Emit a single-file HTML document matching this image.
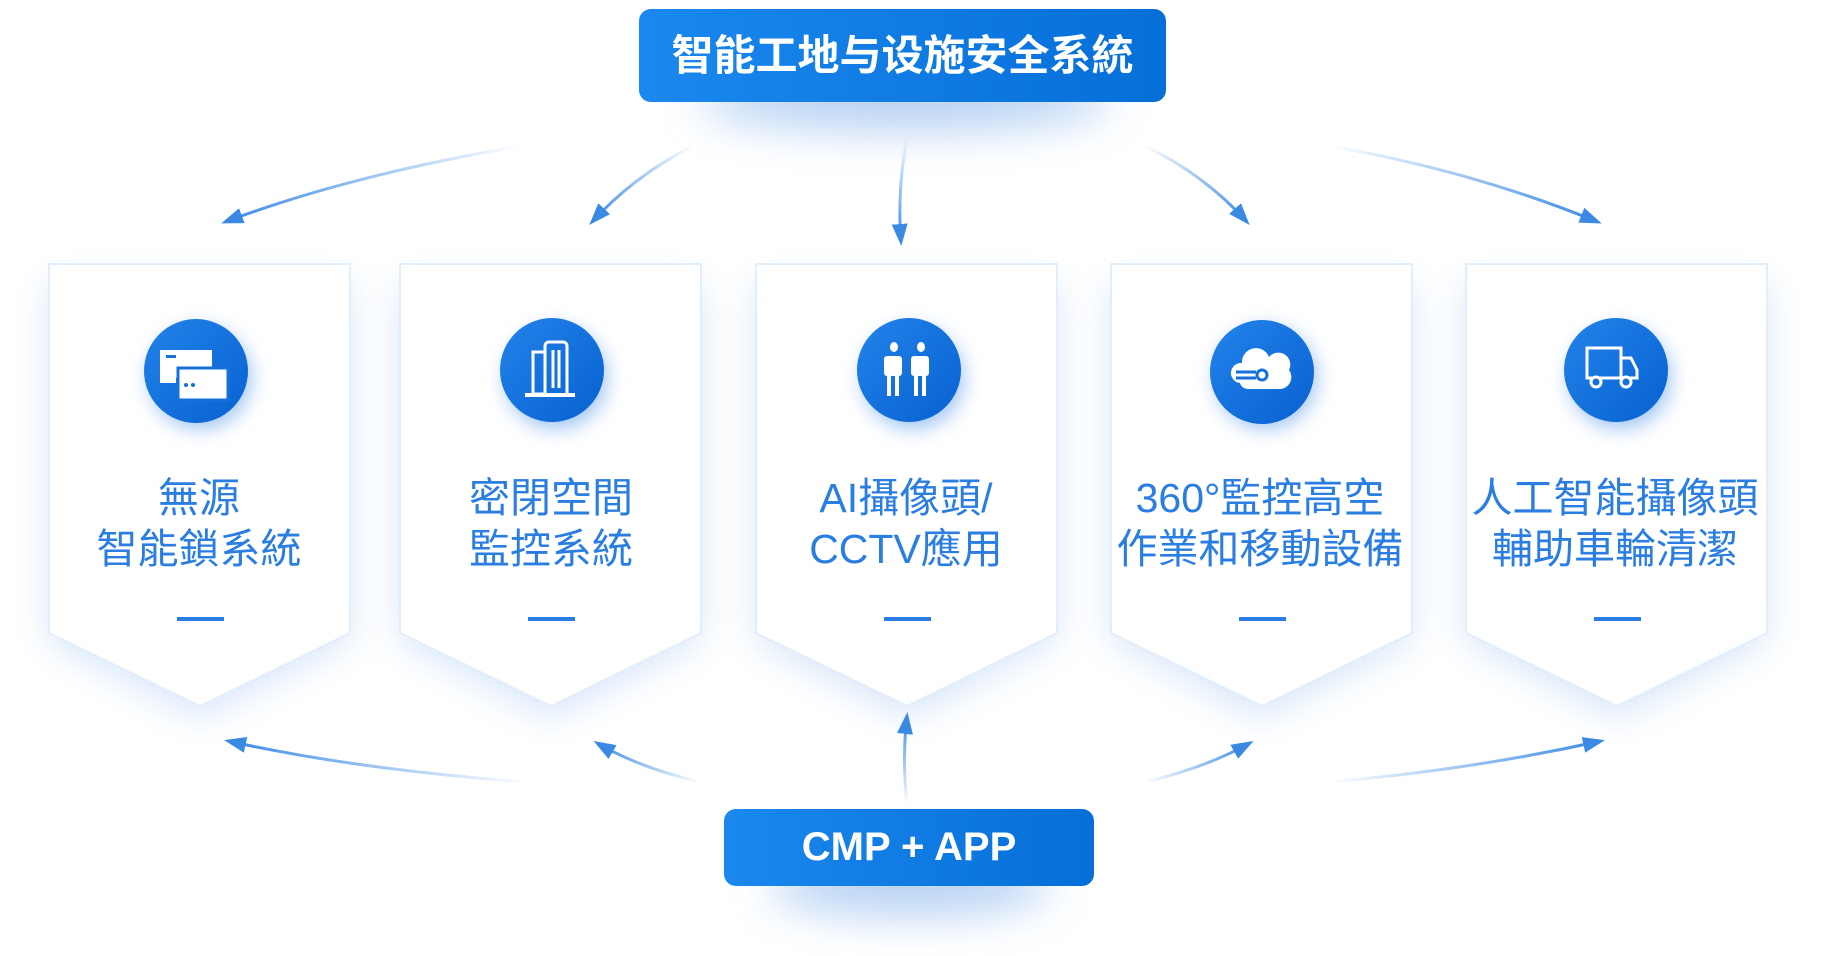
<!DOCTYPE html>
<html><head><meta charset="utf-8">
<style>
html,body{margin:0;padding:0;background:#fff;}
body{width:1833px;height:956px;position:relative;overflow:hidden;font-family:"Liberation Sans","Noto Sans CJK TC",sans-serif;}
.box{position:absolute;border-radius:12px;background:linear-gradient(90deg,#1a88ee,#066fd8);color:#fff;font-weight:bold;text-align:center;}
.sh{position:absolute;border-radius:50%;background:rgba(40,120,220,0.35);filter:blur(22px);}
</style></head><body>
<div class="sh" style="left:700px;top:70px;width:410px;height:60px;"></div>
<div class="sh" style="left:770px;top:855px;width:280px;height:60px;"></div>
<svg width="1833" height="956" style="position:absolute;left:0;top:0">
<defs>
<filter id="cs" x="-30%" y="-20%" width="160%" height="150%"><feGaussianBlur stdDeviation="18"/></filter>
<filter id="ics" x="-50%" y="-50%" width="200%" height="200%"><feGaussianBlur stdDeviation="10"/></filter>
<linearGradient id="cg" x1="0" y1="0" x2="1" y2="1"><stop offset="0" stop-color="#2383ea"/><stop offset="1" stop-color="#0761d0"/></linearGradient>
<marker id="ah" markerWidth="22" markerHeight="16" refX="18" refY="8" orient="auto" markerUnits="userSpaceOnUse" viewBox="0 0 22 16"><path d="M0,0 L22,8 L0,16 z" fill="#3a8ae4"/></marker>
</defs>
<g fill="#d4e4f8" filter="url(#cs)" opacity="0.9">
<path d="M49,284 H350 V640 L200,718 L49,640 Z"/>
<path d="M400,284 H701 V640 L551,718 L400,640 Z"/>
<path d="M756,284 H1057 V640 L907,718 L756,640 Z"/>
<path d="M1111,284 H1412 V640 L1262,718 L1111,640 Z"/>
<path d="M1466,284 H1767 V640 L1617,718 L1466,640 Z"/>
</g>
<g fill="#fff" stroke="#e3eefb" stroke-width="2">
<path d="M49,264 H350 V633 L200,706 L49,633 Z"/>
<path d="M400,264 H701 V633 L551,706 L400,633 Z"/>
<path d="M756,264 H1057 V633 L907,706 L756,633 Z"/>
<path d="M1111,264 H1412 V633 L1262,706 L1111,633 Z"/>
<path d="M1466,264 H1767 V633 L1617,706 L1466,633 Z"/>
</g>
<g fill="#7fb0ee" filter="url(#ics)" opacity="0.8">
<circle cx="200" cy="378" r="50"/><circle cx="556" cy="378" r="50"/><circle cx="913" cy="378" r="50"/><circle cx="1266" cy="378" r="50"/><circle cx="1620" cy="378" r="50"/>
</g>
<g fill="url(#cg)">
<circle cx="196" cy="371" r="52"/><circle cx="552" cy="370" r="52"/><circle cx="909" cy="370" r="52"/><circle cx="1262" cy="372" r="52"/><circle cx="1616" cy="370" r="52"/>
</g>
<g fill="#fff">
<rect x="160" y="350" width="52" height="28"/><rect x="160" y="378" width="16" height="5"/>
<rect x="178" y="368" width="50" height="32" stroke="#1570dc" stroke-width="3"/>
</g>
<rect x="166" y="355" width="10" height="3" fill="#1570dc"/>
<circle cx="186" cy="385" r="2" fill="#1570dc"/><circle cx="193" cy="385" r="2" fill="#1570dc"/>
<g fill="none" stroke="#fff" stroke-width="3">
<rect x="533" y="352" width="12" height="42"/><path d="M545,394 V346 a4,4 0 0 1 4,-4 h14 a4,4 0 0 1 4,4 V394"/>
<path d="M553,350 V388 M559,350 V388"/>
</g>
<rect x="525" y="393" width="50" height="4" fill="#fff"/>
<g fill="#fff">
<ellipse cx="894" cy="347" rx="4" ry="5"/><ellipse cx="921" cy="347" rx="4" ry="5"/>
<rect x="884" y="356" width="18" height="20" rx="3"/><rect x="911" y="356" width="18" height="20" rx="3"/>
<rect x="887" y="376" width="4" height="20"/><rect x="895" y="376" width="4" height="20"/>
<rect x="914" y="376" width="4" height="20"/><rect x="922" y="376" width="4" height="20"/>
</g>
<g fill="#fff">
<path d="M1240,383 a10,10 0 0 1 2,-20 a14,14 0 0 1 27,-6 a12,12 0 0 1 20,13 a12,12 0 0 1 -8,19 h-33 a8,8 0 0 1 -8,-6z"/>
</g>
<g fill="none" stroke="#1570dc" stroke-width="3"><path d="M1236,372 h20 M1236,378 h20"/><circle cx="1262" cy="375" r="5"/></g>
<g fill="none" stroke="#fff" stroke-width="3">
<rect x="1587" y="348" width="34" height="30"/><path d="M1621,358 h10 l6,12 v8 h-16"/>
<circle cx="1596" cy="382" r="5" fill="#1570dc"/><circle cx="1626" cy="382" r="5" fill="#1570dc"/>
</g>
<g fill="#2a7de1" font-family="'Liberation Sans','Noto Sans CJK TC',sans-serif" font-size="41" text-anchor="middle">
<text x="199" y="512">無源</text><text x="199" y="563">智能鎖系統</text>
<text x="551" y="512">密閉空間</text><text x="551" y="563">監控系統</text>
<text x="906" y="512">AI攝像頭/</text><text x="906" y="563">CCTV應用</text>
<text x="1260" y="512">360°監控高空</text><text x="1260" y="563">作業和移動設備</text>
<text x="1615" y="512">人工智能攝像頭</text><text x="1615" y="563">輔助車輪清潔</text>
</g>
<g fill="#2a7de1">
<rect x="177" y="617" width="47" height="4"/><rect x="528" y="617" width="47" height="4"/><rect x="884" y="617" width="47" height="4"/><rect x="1239" y="617" width="47" height="4"/><rect x="1594" y="617" width="47" height="4"/>
</g>
<defs>
<linearGradient id="g1" gradientUnits="userSpaceOnUse" x1="521" y1="146" x2="225" y2="222"><stop offset="0" stop-color="#3a8ae4" stop-opacity="0"/><stop offset="1" stop-color="#3a8ae4"/></linearGradient>
<linearGradient id="g2" gradientUnits="userSpaceOnUse" x1="693" y1="146" x2="592" y2="222"><stop offset="0" stop-color="#3a8ae4" stop-opacity="0"/><stop offset="1" stop-color="#3a8ae4"/></linearGradient>
<linearGradient id="g3" gradientUnits="userSpaceOnUse" x1="907" y1="138" x2="901" y2="242"><stop offset="0" stop-color="#3a8ae4" stop-opacity="0"/><stop offset="1" stop-color="#3a8ae4"/></linearGradient>
<linearGradient id="g4" gradientUnits="userSpaceOnUse" x1="1145" y1="146" x2="1247" y2="222"><stop offset="0" stop-color="#3a8ae4" stop-opacity="0"/><stop offset="1" stop-color="#3a8ae4"/></linearGradient>
<linearGradient id="g5" gradientUnits="userSpaceOnUse" x1="1329" y1="146" x2="1598" y2="222"><stop offset="0" stop-color="#3a8ae4" stop-opacity="0"/><stop offset="1" stop-color="#3a8ae4"/></linearGradient>
<linearGradient id="b1" gradientUnits="userSpaceOnUse" x1="527" y1="782" x2="228" y2="741"><stop offset="0" stop-color="#3a8ae4" stop-opacity="0"/><stop offset="1" stop-color="#3a8ae4"/></linearGradient>
<linearGradient id="b2" gradientUnits="userSpaceOnUse" x1="700" y1="782" x2="597" y2="743"><stop offset="0" stop-color="#3a8ae4" stop-opacity="0"/><stop offset="1" stop-color="#3a8ae4"/></linearGradient>
<linearGradient id="b3" gradientUnits="userSpaceOnUse" x1="907" y1="805" x2="907" y2="716"><stop offset="0" stop-color="#3a8ae4" stop-opacity="0"/><stop offset="1" stop-color="#3a8ae4"/></linearGradient>
<linearGradient id="b4" gradientUnits="userSpaceOnUse" x1="1145" y1="782" x2="1250" y2="743"><stop offset="0" stop-color="#3a8ae4" stop-opacity="0"/><stop offset="1" stop-color="#3a8ae4"/></linearGradient>
<linearGradient id="b5" gradientUnits="userSpaceOnUse" x1="1329" y1="782" x2="1601" y2="741"><stop offset="0" stop-color="#3a8ae4" stop-opacity="0"/><stop offset="1" stop-color="#3a8ae4"/></linearGradient>
</defs>
<g fill="none" stroke-width="3" marker-end="url(#ah)">
<path d="M521,146 Q350,175 225,222" stroke="url(#g1)"/>
<path d="M693,146 Q635,175 592,222" stroke="url(#g2)"/>
<path d="M907,138 Q897,190 901,242" stroke="url(#g3)"/>
<path d="M1145,146 Q1205,175 1247,222" stroke="url(#g4)"/>
<path d="M1329,146 Q1470,170 1598,222" stroke="url(#g5)"/>
<path d="M527,782 Q360,770 228,741" stroke="url(#b1)"/>
<path d="M700,782 Q640,768 597,743" stroke="url(#b2)"/>
<path d="M907,805 Q902,760 907,716" stroke="url(#b3)"/>
<path d="M1145,782 Q1205,768 1250,743" stroke="url(#b4)"/>
<path d="M1329,782 Q1470,770 1601,741" stroke="url(#b5)"/>
</g>
</svg>
<div class="box" style="left:639px;top:9px;width:527px;height:93px;line-height:93px;font-size:42px;font-family:'Liberation Sans','Noto Sans CJK SC',sans-serif;">智能工地与设施安全系統</div>
<div class="box" style="left:724px;top:809px;width:370px;height:77px;line-height:77px;font-size:40px;">CMP + APP</div>
</body></html>
